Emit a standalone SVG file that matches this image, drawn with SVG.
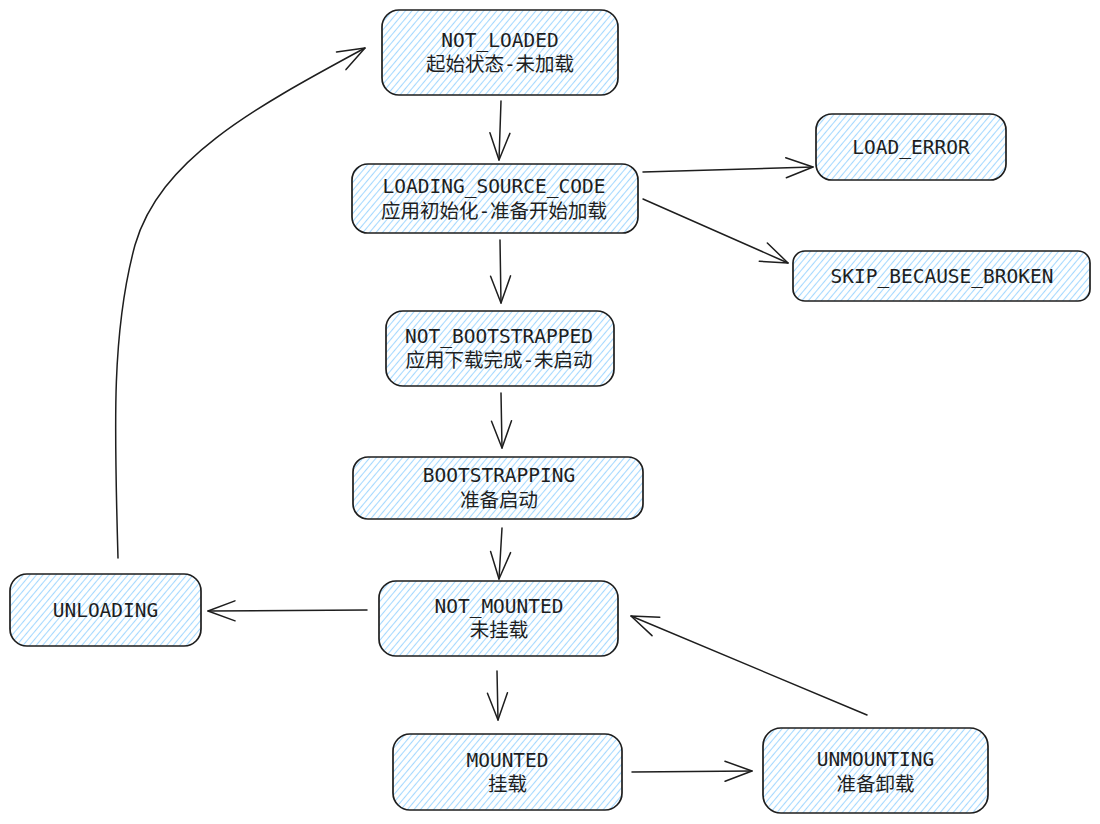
<svg xmlns="http://www.w3.org/2000/svg" width="1100" height="824" viewBox="0 0 1100 824">
  <defs>
    <pattern id="hatch" width="5" height="5" patternUnits="userSpaceOnUse" patternTransform="rotate(40)">
      <line x1="2.5" y1="0" x2="2.5" y2="5" stroke="#a5d8ff" stroke-width="1.1"/>
    </pattern>
    <marker id="ah" viewBox="-30 -15 34 30" refX="0" refY="0" markerWidth="34" markerHeight="30" markerUnits="userSpaceOnUse" orient="auto" overflow="visible">
      <path d="M-27,-10 L0,0 L-27,10" fill="none" stroke="#1e1e1e" stroke-width="1.5" stroke-linecap="round" stroke-linejoin="round"/>
    </marker>
  </defs>
  <style>
    .box { fill: url(#hatch); stroke: #1e1e1e; stroke-width: 1.7; }
    .lbl { font-family: "DejaVu Sans Mono", "Noto Sans CJK SC", monospace; font-size: 19.5px; fill: #1e1e1e; text-anchor: middle; }
    .conn { fill: none; stroke: #1e1e1e; stroke-width: 1.5; stroke-linecap: round; marker-end: url(#ah); }
  </style>
  <rect width="1100" height="824" fill="#ffffff"/>

  <g id="connectors">
    <path class="conn" d="M501,101 L499,160"/>
    <path class="conn" d="M643,172 L813,167"/>
    <path class="conn" d="M643,199 L788,263"/>
    <path class="conn" d="M500,240 L501,303"/>
    <path class="conn" d="M501,393 L502,448"/>
    <path class="conn" d="M502,528 L499,579"/>
    <path class="conn" d="M367,610 L208,611"/>
    <path class="conn" d="M497,671 L498,720"/>
    <path class="conn" d="M632,772 L752,771"/>
    <path class="conn" d="M867,715 L631,616"/>
    <path class="conn" d="M118,558 C114,420 112,330 135,245 C160,160 250,110 365,48"/>
  </g>

  <g id="not-loaded">
    <rect class="box" x="382" y="10" width="236" height="85" rx="17"/>
    <text class="lbl" x="500" y="47">NOT_LOADED</text>
    <text class="lbl" x="500" y="71">起始状态-未加载</text>
  </g>

  <g id="loading-source-code">
    <rect class="box" x="352" y="164" width="286" height="69" rx="16"/>
    <text class="lbl" x="494" y="193">LOADING_SOURCE_CODE</text>
    <text class="lbl" x="494" y="218">应用初始化-准备开始加载</text>
  </g>

  <g id="load-error">
    <rect class="box" x="816" y="114" width="190" height="66" rx="16"/>
    <text class="lbl" x="911" y="154">LOAD_ERROR</text>
  </g>

  <g id="skip-because-broken">
    <rect class="box" x="793" y="251" width="297" height="50" rx="12"/>
    <text class="lbl" x="942" y="283">SKIP_BECAUSE_BROKEN</text>
  </g>

  <g id="not-bootstrapped">
    <rect class="box" x="386" y="311" width="228" height="75" rx="17"/>
    <text class="lbl" x="499" y="343">NOT_BOOTSTRAPPED</text>
    <text class="lbl" x="499" y="367">应用下载完成-未启动</text>
  </g>

  <g id="bootstrapping">
    <rect class="box" x="353" y="457" width="290" height="62" rx="15"/>
    <text class="lbl" x="499" y="482">BOOTSTRAPPING</text>
    <text class="lbl" x="499" y="507">准备启动</text>
  </g>

  <g id="not-mounted">
    <rect class="box" x="379" y="581" width="239" height="75" rx="17"/>
    <text class="lbl" x="499" y="613">NOT_MOUNTED</text>
    <text class="lbl" x="499" y="637">未挂载</text>
  </g>

  <g id="unloading">
    <rect class="box" x="10" y="574" width="191" height="72" rx="17"/>
    <text class="lbl" x="105.5" y="617">UNLOADING</text>
  </g>

  <g id="mounted">
    <rect class="box" x="393" y="734" width="229" height="76" rx="17"/>
    <text class="lbl" x="507.5" y="767">MOUNTED</text>
    <text class="lbl" x="507.5" y="791">挂载</text>
  </g>

  <g id="unmounting">
    <rect class="box" x="763" y="728" width="225" height="85" rx="18"/>
    <text class="lbl" x="875.5" y="766">UNMOUNTING</text>
    <text class="lbl" x="875.5" y="791">准备卸载</text>
  </g>
</svg>
